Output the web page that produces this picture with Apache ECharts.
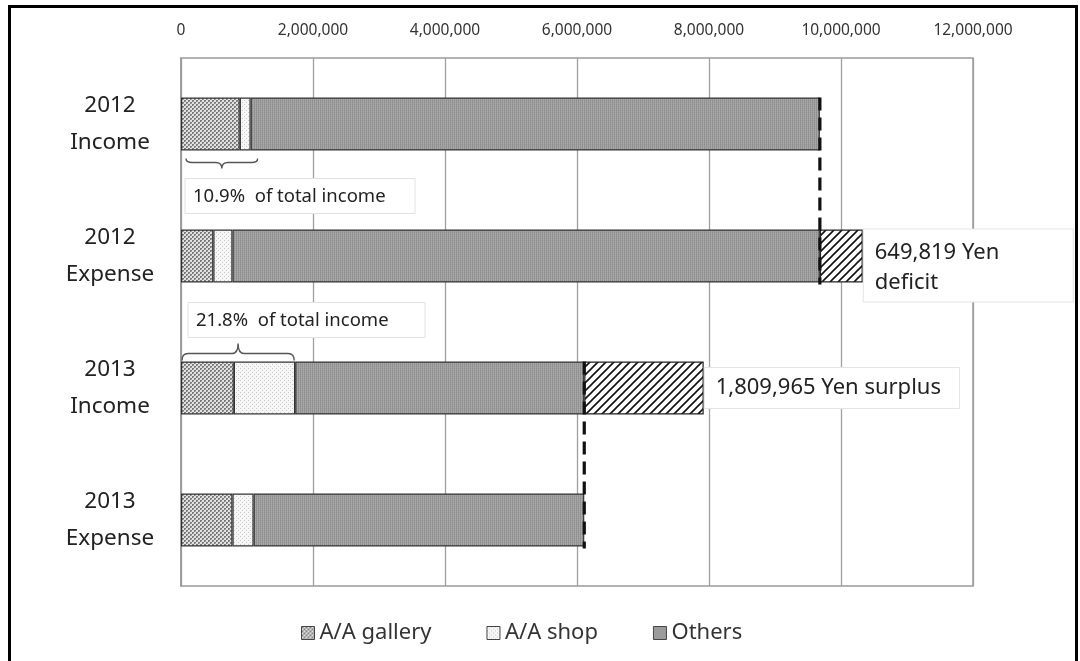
<!DOCTYPE html>
<html>
<head>
<meta charset="utf-8">
<title>Income and expense 2012–2013</title>
<script src="https://cdn.jsdelivr.net/npm/echarts@6/dist/echarts.min.js"></script>
<style>
  html, body { margin: 0; padding: 0; background: #fff; }
  #wrap { position: relative; width: 1080px; height: 661px; overflow: hidden; }
  #chart { position: absolute; left: 0; top: 0; width: 1080px; height: 661px; }
  #frame { position: absolute; left: 8px; top: 5px; width: 1064px; height: 700px;
           border: 3px solid #000; pointer-events: none; }
</style>
</head>
<body>
<div id="wrap">
  <div id="chart"></div>
  <div id="frame"></div>
</div>
<script>
// Rows, top to bottom
const categories = ['2012\nIncome', '2012\nExpense', '2013\nIncome', '2013\nExpense'];

// Amounts in yen
const gallery = [890000, 490000, 800000, 780000];
const shop    = [165000, 290000, 930000, 320000];
const others  = [8625000, 8900000, 4380000, 5010000];
// Deficit (2012) drawn on the expense row, surplus (2013) drawn on the income row
const balance = [null, 649819, 1809965, null];

const xTicks = { min: 0, max: 12000000, interval: 2000000 };
const legendNames = ['A/A gallery', 'A/A shop', 'Others'];

function rowTotal(i) {
  return gallery[i] + shop[i] + others[i] + (balance[i] || 0);
}
function fmt(n) { return n.toLocaleString('en-US'); }

// --- fill patterns -------------------------------------------------------
function makePattern(w, h, draw) {
  const c = document.createElement('canvas');
  c.width = w; c.height = h;
  draw(c.getContext('2d'), w, h);
  return { image: c, repeat: 'repeat' };
}
const galleryFill = makePattern(4, 4, (g) => {
  g.fillStyle = '#e2e2e2'; g.fillRect(0, 0, 4, 4);
  g.fillStyle = '#7a7a7a';
  g.fillRect(0, 0, 2, 2); g.fillRect(2, 2, 2, 2);
  g.fillStyle = '#a8a8a8';
  g.fillRect(1, 1, 1, 1); g.fillRect(3, 3, 1, 1);
});
const shopFill = makePattern(4, 4, (g) => {
  g.fillStyle = '#f6f6f6'; g.fillRect(0, 0, 4, 4);
  g.fillStyle = '#c8c8c8';
  g.fillRect(0, 0, 1, 1); g.fillRect(2, 2, 1, 1);
});
const othersFill = makePattern(2, 2, (g) => {
  g.fillStyle = '#8c8c8c'; g.fillRect(0, 0, 1, 2);
  g.fillStyle = '#a6a6a6'; g.fillRect(1, 0, 1, 2);
  g.fillStyle = '#979797'; g.fillRect(0, 1, 1, 1);
});
const hatchFill = makePattern(8, 8, (g) => {
  g.fillStyle = '#ffffff'; g.fillRect(0, 0, 8, 8);
  g.strokeStyle = '#111'; g.lineWidth = 1.6;
  g.beginPath();
  g.moveTo(-1, 9); g.lineTo(9, -1);
  g.moveTo(-1, 1); g.lineTo(1, -1);
  g.moveTo(7, 9); g.lineTo(9, 7);
  g.stroke();
});

// --- annotation data, derived from the amounts ---------------------------
// [start, row, end, side]  side 1 = brace below bar, -1 = brace above bar
const shareRows = [0, 2];
const braceData = shareRows.map((r, k) => [0, r, gallery[r] + shop[r], k === 0 ? 1 : -1]);
const braceText = shareRows.map(r =>
  ((gallery[r] + shop[r]) / rowTotal(r) * 100).toFixed(1) + '%  of total income');

// dashed guides: [value, fromRow, toRow]
const guideData = [
  [rowTotal(0), 0, 1],
  [rowTotal(3), 2, 3]
];

const BAR_W = 53;
const FONT = '"Noto Sans", "Open Sans", sans-serif';

const chart = echarts.init(document.getElementById('chart'), null, { renderer: 'canvas' });

const barBase = {
  type: 'bar',
  stack: 'total',
  barWidth: BAR_W,
  emphasis: { disabled: true },
  animation: false
};

chart.setOption({
  backgroundColor: '#ffffff',
  animation: false,
  textStyle: { fontFamily: FONT },
  grid: {
    left: 181, right: 107, top: 58, bottom: 75,
    show: true, borderColor: '#9a9a9a', borderWidth: 1.5,
    backgroundColor: 'transparent'
  },
  legend: {
    data: legendNames,
    left: 296, top: 617,
    icon: 'rect', itemWidth: 13, itemHeight: 13, itemGap: 55,
    textStyle: { fontSize: 22, color: '#333', fontFamily: FONT },
    itemStyle: { borderColor: '#444', borderWidth: 1 }
  },
  xAxis: {
    type: 'value',
    position: 'top',
    min: xTicks.min, max: xTicks.max, interval: xTicks.interval,
    axisLine: { show: false },
    axisTick: { show: false },
    axisLabel: { formatter: v => fmt(v), fontSize: 15.5, color: '#333', margin: 19 },
    splitLine: { show: true, lineStyle: { color: '#a0a0a0', width: 1.3 } }
  },
  yAxis: {
    type: 'category',
    data: categories,
    inverse: true,
    axisLine: { show: true, lineStyle: { color: '#9a9a9a', width: 1.5 } },
    axisTick: { show: false },
    axisLabel: {
      align: 'center', margin: 71, fontSize: 22.5, lineHeight: 37,
      color: '#222', fontFamily: FONT
    }
  },
  series: [
    Object.assign({}, barBase, {
      name: 'A/A gallery', data: gallery,
      itemStyle: { color: galleryFill, borderColor: '#333', borderWidth: 1.2 }
    }),
    Object.assign({}, barBase, {
      name: 'A/A shop', data: shop,
      itemStyle: { color: shopFill, borderColor: '#333', borderWidth: 1.2 }
    }),
    Object.assign({}, barBase, {
      name: 'Others', data: others,
      itemStyle: { color: othersFill, borderColor: '#333', borderWidth: 1.2 }
    }),
    Object.assign({}, barBase, {
      name: 'Balance', data: balance,
      itemStyle: { color: hatchFill, borderColor: '#222', borderWidth: 1.2 },
      label: {
        show: true,
        position: 'right',
        distance: 1,
        fontFamily: FONT,
        fontSize: 22,
        color: '#222',
        backgroundColor: '#ffffff',
        borderColor: '#e4e4e4',
        borderWidth: 1,
        padding: [6, 18, 6, 11],
        formatter: p => p.dataIndex === 1
          ? '{d|' + fmt(p.value) + ' Yen\ndeficit}'
          : '{s|' + fmt(p.value) + ' Yen surplus}',
        rich: {
          d: { fontSize: 22, lineHeight: 30, width: 180, padding: [4, 0, 0, 0],
               color: '#222', fontFamily: FONT },
          s: { fontSize: 22, lineHeight: 28, color: '#222', fontFamily: FONT }
        }
      },
      labelLayout: (p) => {
        if (p.dataIndex === 1) {
          return { y: p.rect.y, verticalAlign: 'top' };
        }
        return {};
      }
    }),
    // braces and "% of total income" boxes
    {
      type: 'custom',
      name: 'share',
      silent: true,
      animation: false,
      z: 5,
      data: braceData,
      encode: { x: [0, 2], y: 1 },
      renderItem: (params, api) => {
        const row = api.value(1);
        const a = api.coord([api.value(0), row]);
        const b = api.coord([api.value(2), row]);
        const side = api.value(3);
        const half = BAR_W / 2;
        const x1 = a[0] + (side > 0 ? 5 : 1);
        const x2 = b[0] + (side > 0 ? 7 : -1);
        const xm = (x1 + x2) / 2;
        const edge = side > 0 ? a[1] + half : a[1] - half;
        const yEnd = edge + side * (side > 0 ? 8 : 1);
        const yFlat = edge + side * (side > 0 ? 12 : 8);
        const yTip = edge + side * 18;
        const r = 6;
        const path =
          `M${x1},${yEnd} Q${x1},${yFlat} ${x1 + r},${yFlat} ` +
          `L${xm - r},${yFlat} Q${xm},${yFlat} ${xm},${yTip} ` +
          `Q${xm},${yFlat} ${xm + r},${yFlat} ` +
          `L${x2 - r},${yFlat} Q${x2},${yFlat} ${x2},${yEnd}`;
        const boxH = 35;
        const boxW = side > 0 ? 230 : 237;
        const boxX = a[0] + (side > 0 ? 4 : 7);
        const boxY = side > 0 ? edge + 28 : edge - 24 - boxH;
        return {
          type: 'group',
          children: [
            {
              type: 'path',
              shape: { pathData: path },
              style: { stroke: '#555', lineWidth: 1.4, fill: null }
            },
            {
              type: 'rect',
              shape: { x: boxX, y: boxY, width: boxW, height: boxH },
              style: { fill: '#fff', stroke: '#e2e2e2', lineWidth: 1 }
            },
            {
              type: 'text',
              style: {
                x: boxX + 8, y: boxY + boxH / 2 + 1,
                text: braceText[params.dataIndex],
                font: '18.5px ' + FONT,
                fill: '#222',
                verticalAlign: 'middle'
              }
            }
          ]
        };
      }
    },
    // dashed guides linking income and expense totals
    {
      type: 'custom',
      name: 'guide',
      silent: true,
      animation: false,
      z: 6,
      data: guideData,
      encode: { x: 0, y: [1, 2] },
      renderItem: (params, api) => {
        const p1 = api.coord([api.value(0), api.value(1)]);
        const p2 = api.coord([api.value(0), api.value(2)]);
        const half = BAR_W / 2;
        return {
          type: 'line',
          shape: { x1: p1[0], y1: p1[1] - half, x2: p2[0], y2: p2[1] + half + 2 },
          style: { stroke: '#111', lineWidth: 3.2, lineDash: [13, 7] }
        };
      }
    }
  ]
});
</script>
</body>
</html>
